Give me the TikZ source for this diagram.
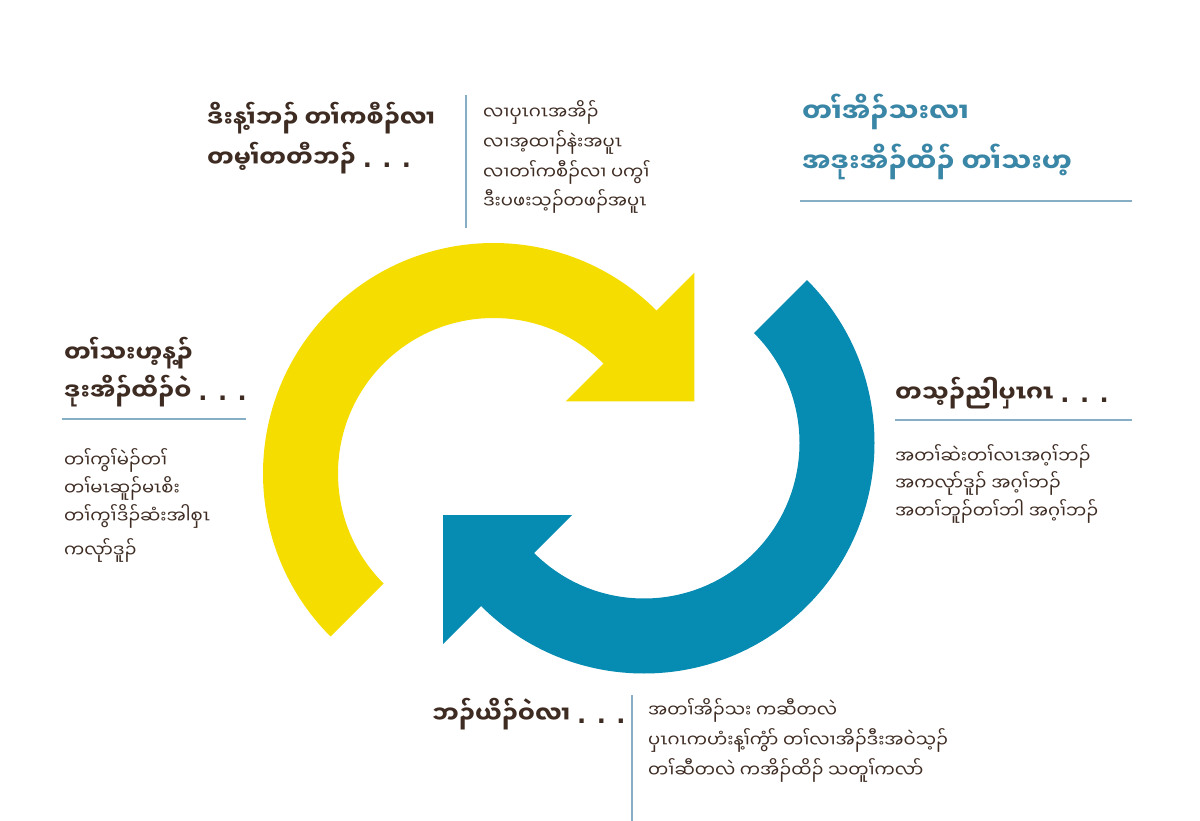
\documentclass[tikz,border=0pt]{standalone}
\usepackage{fontspec}
\usetikzlibrary{calc}
\newfontfamily\my[Script=Myanmar]{Noto Sans Myanmar UI}
\newfontfamily\dotfont{DejaVu Sans}
\definecolor{ylw}{HTML}{F6DD00}
\definecolor{tl}{HTML}{068BB2}
\definecolor{brn}{HTML}{3E2C23}
\definecolor{tlh}{HTML}{3A86A6}
\definecolor{rul}{HTML}{86AEC4}
\newcommand\tridots{{\dotfont\bfseries\hspace{7pt}.\hspace{10.5pt}.\hspace{10.5pt}.}}
\tikzset{
  body/.style={font=\my\fontsize{18}{22}\selectfont, text=brn, anchor=base west,
    inner sep=0pt, text height=12pt, text depth=5pt},
  head/.style={font=\my\bfseries\fontsize{24}{28}\selectfont, text=brn, anchor=base west,
    inner sep=0pt, text height=16pt, text depth=6pt},
  thead/.style={font=\my\bfseries\fontsize{27}{30}\selectfont, text=tlh, anchor=base west,
    inner sep=0pt, text height=18pt, text depth=7pt},
  rule/.style={draw=rul, line width=1.3pt}
}
\begin{document}
\begin{tikzpicture}[x=1pt,y=1pt]
\useasboundingbox (0,0) rectangle (1200,-821);
\fill[white] (0,0) rectangle (1200,-821);
\coordinate (Y) at (493.5,-473.5);
\coordinate (T) at (644,-443);
% yellow arrow
\fill[ylw] ($(Y)+(225:230.5)$) arc[start angle=225,end angle=45,radius=230.5]
  -- ($(Y)+(45:284)$) -- ($(Y)+(45:193)+(-45:91)$) -- ($(Y)+(45:102)$)
  -- ($(Y)+(45:155.5)$) arc[start angle=45,end angle=225,radius=155.5] -- cycle;
% teal arrow
\fill[tl] ($(T)+(45:230.5)$) arc[start angle=45,end angle=-135,radius=230.5]
  -- ($(T)+(225:284)$) -- ($(T)+(225:193)+(135:91)$) -- ($(T)+(225:102)$)
  -- ($(T)+(225:155.5)$) arc[start angle=-135,end angle=45,radius=155.5] -- cycle;

% top left
\node[head] (h1a) at (207,-128) {ဒိးန့ၢ်ဘၣ် တၢ်ကစီၣ်လၢ};
\node[head] (h1b) at (207,-168) {တမ့ၢ်တတီဘၣ်\tridots};
\coordinate (v1a) at (466,-95);
\coordinate (v1b) at (466,-228);
\draw[rule] (v1a) -- (v1b);
\node[body] (b1a) at (483,-120) {လၢပှၤဂၤအအိၣ်};
\node[body] (b1b) at (483,-150) {လၢအ့ထၢၣ်နဲးအပူၤ};
\node[body] (b1c) at (483,-180) {လၢတၢ်ကစီၣ်လၢ ပကွၢ်};
\node[body] (b1d) at (483,-209) {ဒီးပဖးသ့ၣ်တဖၣ်အပူၤ};

% top right
\node[thead] (h2a) at (802,-123) {တၢ်အိၣ်သးလၢ};
\node[thead] (h2b) at (802,-173) {အဒုးအိၣ်ထိၣ် တၢ်သးဟ့};
\coordinate (r2a) at (800,-201);
\coordinate (r2b) at (1132,-201);
\draw[rule] (r2a) -- (r2b);

% left
\node[head] (h3a) at (64,-362) {တၢ်သးဟ့န့ၣ်};
\node[head] (h3b) at (64,-400) {ဒုးအိၣ်ထိၣ်ဝဲ\tridots};
\coordinate (r3a) at (62,-419);
\coordinate (r3b) at (246,-419);
\draw[rule] (r3a) -- (r3b);
\node[body] (b3a) at (64,-467) {တၢ်ကွၢ်မဲၣ်တၢ်};
\node[body] (b3b) at (64,-495) {တၢ်မၤဆူၣ်မၤစိး};
\node[body] (b3c) at (64,-523) {တၢ်ကွၢ်ဒိၣ်ဆံးအါစှၤ};
\node[body] (b3d) at (64,-557) {ကလုာ်ဒူၣ်};

% right
\node[head] (h4a) at (895,-402) {တသ့ၣ်ညါပှၤဂၤ\tridots};
\coordinate (r4a) at (895,-420);
\coordinate (r4b) at (1132,-420);
\draw[rule] (r4a) -- (r4b);
\node[body] (b4a) at (895,-463) {အတၢ်ဆဲးတၢ်လၤအဂ့ၢ်ဘၣ်};
\node[body] (b4b) at (895,-490) {အကလုာ်ဒူၣ် အဂ့ၢ်ဘၣ်};
\node[body] (b4c) at (895,-518) {အတၢ်ဘူၣ်တၢ်ဘါ အဂ့ၢ်ဘၣ်};

% bottom
\node[head] (h5a) at (432,-723) {ဘၣ်ယိၣ်ဝဲလၢ\tridots};
\coordinate (v5a) at (632,-695);
\coordinate (v5b) at (632,-821);
\draw[rule] (v5a) -- (v5b);
\node[body] (b5a) at (648,-717) {အတၢ်အိၣ်သး ကဆီတလဲ};
\node[body] (b5b) at (648,-747) {ပှၤဂၤကဟံးန့ၢ်ကွံာ် တၢ်လၢအိၣ်ဒီးအဝဲသ့ၣ်};
\node[body] (b5c) at (648,-777) {တၢ်ဆီတလဲ ကအိၣ်ထိၣ် သတူၢ်ကလာ်};
\end{tikzpicture}
\end{document}
